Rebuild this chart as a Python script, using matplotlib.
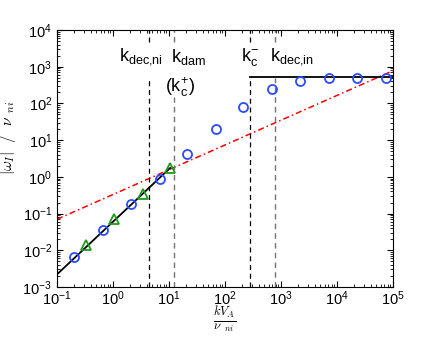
import numpy as np
import matplotlib
matplotlib.use("Agg")
import matplotlib.pyplot as plt

plt.rcParams['font.family'] = ['Liberation Sans', 'DejaVu Sans']
plt.rcParams['mathtext.fontset'] = 'custom'
plt.rcParams['mathtext.rm'] = 'Liberation Sans'
plt.rcParams['mathtext.it'] = 'Liberation Sans:italic'

# simulation points (circles / triangles)
k_circ = [0.2, 0.66, 2.1, 6.8, 21, 69, 212, 700, 2200, 7200, 23000, 74000]
w_circ = [0.0066, 0.035, 0.18, 0.87, 4.3, 20, 82, 243, 418, 493, 500, 505]
k_tri = [0.33, 1.05, 3.4, 10.5]
w_tri = [0.0138, 0.07, 0.35, 1.75]

# analytic curves
k_low = [0.1, 10.5]
w_low = [0.0022, 1.75]
k_high = [275, 1e5]
w_high = [510, 510]
k_red = [0.1, 1e5]
w_red = [0.07, 780]

# characteristic wavenumbers
k_dec_ni = 4.4
k_dam = 12.3
k_c_minus = 275
k_dec_in = 775

fig = plt.figure(figsize=(4.36, 3.39), dpi=100)
ax = fig.add_axes([0.1307, 0.1534, 0.7706, 0.7581])

ax.plot(k_red, w_red, '-.', color='red', lw=1.1, dashes=(4, 2, 1, 2))
ax.plot(k_low, w_low, '-', color='black', lw=1.3)
ax.plot(k_high, w_high, '-', color='black', lw=1.3)

# vertical dashed markers (split around the labels)
ax.axvline(k_dec_ni, ymin=0, ymax=0.814, color='black', ls='--', lw=0.9, dashes=(4, 3))
ax.axvline(k_dec_ni, ymin=0.955, ymax=1, color='black', ls='--', lw=0.9, dashes=(4, 3))
ax.axvline(k_dam, ymin=0, ymax=0.74, color='0.45', ls='--', lw=1.0, dashes=(4, 3))
ax.axvline(k_dam, ymin=0.955, ymax=1, color='0.45', ls='--', lw=1.0, dashes=(4, 3))
ax.axvline(k_c_minus, ymin=0, ymax=0.814, color='black', ls='--', lw=0.9, dashes=(4, 3))
ax.axvline(k_c_minus, ymin=0.955, ymax=1, color='black', ls='--', lw=0.9, dashes=(4, 3))
ax.axvline(k_dec_in, ymin=0, ymax=0.814, color='0.45', ls='--', lw=1.0, dashes=(4, 3))
ax.axvline(k_dec_in, ymin=0.955, ymax=1, color='0.45', ls='--', lw=1.0, dashes=(4, 3))

ax.plot(k_circ, w_circ, 'o', mfc='none', mec='#2b4bff', ms=6.5, mew=1.3)
ax.plot(k_tri, w_tri, '^', mfc='none', mec='#1f9a1f', ms=7.5, mew=1.3)

fs = 13
ax.text(3.16, 1860, r'$\mathrm{k}_{\mathrm{dec{,}ni}}$', ha='center', va='center', fontsize=fs)
ax.text(21.9, 1860, r'$\mathrm{k}_{\mathrm{dam}}$', ha='center', va='center', fontsize=fs)
ax.text(15.8, 282, r'$(\mathrm{k}_{\mathrm{c}}^{+})$', ha='center', va='center', fontsize=fs)
ax.text(275, 1860, r'$\mathrm{k}_{\mathrm{c}}^{-}$', ha='center', va='center', fontsize=fs)
ax.text(1600, 1860, r'$\mathrm{k}_{\mathrm{dec{,}in}}$', ha='center', va='center', fontsize=fs)

ax.set_xscale('log')
ax.set_yscale('log')
ax.set_xlim(1e-1, 1e5)
ax.set_ylim(1e-3, 1e4)
ax.tick_params(which='both', direction='in', top=True, right=True, labelsize=10.5)
ax.tick_params(axis='x', pad=2)
ax.tick_params(which='major', length=4)
ax.tick_params(which='minor', length=2)
ax.xaxis.set_major_locator(matplotlib.ticker.LogLocator(base=10, numticks=10))
ax.yaxis.set_major_locator(matplotlib.ticker.LogLocator(base=10, numticks=10))

ax.set_xlabel(r'$\frac{kV_A}{\nu_{\ \ ni}}$', fontsize=13, math_fontfamily='cm', va='top')
ax.xaxis.set_label_coords(0.5, -0.068)
ax.set_ylabel(r'$|\omega_I|\ \ /\ \ \nu_{\ \ ni}$', fontsize=11, math_fontfamily='cm')
ax.yaxis.set_label_coords(-0.115, 0.58)

fig.savefig('out.png', dpi=100)
